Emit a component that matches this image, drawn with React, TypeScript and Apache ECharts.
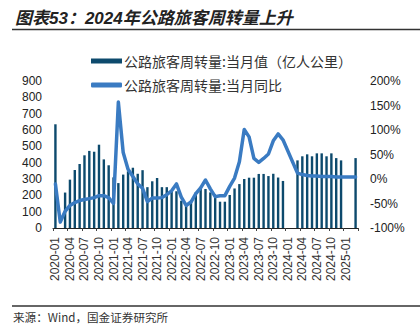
import React, { useEffect, useRef } from "react";
import * as echarts from "echarts";

const categories = [
  "2020-01","2020-02","2020-03","2020-04","2020-05","2020-06","2020-07","2020-08","2020-09","2020-10","2020-11","2020-12",
  "2021-01","2021-02","2021-03","2021-04","2021-05","2021-06","2021-07","2021-08","2021-09","2021-10","2021-11","2021-12",
  "2022-01","2022-02","2022-03","2022-04","2022-05","2022-06","2022-07","2022-08","2022-09","2022-10","2022-11","2022-12",
  "2023-01","2023-02","2023-03","2023-04","2023-05","2023-06","2023-07","2023-08","2023-09","2023-10","2023-11","2023-12",
  "2024-01","2024-02","2024-03","2024-04","2024-05","2024-06","2024-07","2024-08","2024-09","2024-10","2024-11","2024-12",
  "2025-01","2025-02","2025-03",
];

// 公路旅客周转量:当月值（亿人公里）
const monthlyValue: (number | null)[] = [
  635, null, 217, 296, 355, 392, 445, 472, 467, 510, 420, 384,
  310, 275, 327, 347, 369, 332, 354, 250, 286, 306, 250, 250,
  233, 225, 167, 135, 167, 218, 245, 239, 218, 187, 161, 161,
  202, 242, 269, 300, 308, 308, 331, 331, 318, 332, 309, 288,
  null, null, 414, 439, 451, 439, 457, 457, 439, 457, 428, 414,
  null, null, 428,
];

// 公路旅客周转量:当月同比 (%)
const yoyValue: (number | null)[] = [
  -10, -88, -66, -54, -48, -44, -42, -40, -38, -34, -34, -38,
  -50, 157, 54, 20, 5, -10, -19, -46, -39, -39, -38, -32,
  -24, -10, -37, -54, -47, -30, -18, -2, -20, -36, -34, -34,
  -15, 2, 35, 101, 86, 42, 34, 42, 51, 78, 92, 80,
  null, null, 12, 9, 7, 6, 6, 5, 5, 5, 4, 4,
  null, null, 4,
];

const leftTicks = { min: 0, max: 900, interval: 100 };
const rightTicks = { min: -100, max: 200, interval: 50 };

const seriesNames = ["公路旅客周转量:当月值（亿人公里）", "公路旅客周转量:当月同比"];
const titleText = "图表53：2024年公路旅客周转量上升";
const sourceText = "来源：Wind，国金证券研究所";

const BAR = "#0d4a6d";
const LINE = "#3a7bc2";
const CJK = "'Noto Sans CJK SC', sans-serif";
const LATIN = "'Liberation Sans', Arial, sans-serif";

export default function App() {
  const ref = useRef<HTMLDivElement>(null);
  useEffect(() => {
    if (!ref.current) return;
    const chart = echarts.init(ref.current, undefined, { renderer: "svg" });
    chart.setOption({
      animation: false,
      backgroundColor: "#ffffff",
      title: {
        text: titleText,
        left: 10,
        top: 5,
        textStyle: {
          fontFamily: "'Liberation Sans', 'Noto Sans CJK SC', sans-serif",
          fontSize: 17,
          fontWeight: "bold",
          fontStyle: "italic",
          color: "#222",
        },
      },
      graphic: [
        { type: "line", shape: { x1: 12, y1: 29.5, x2: 420, y2: 29.5 }, style: { stroke: "#333", lineWidth: 1.5 } },
        { type: "line", shape: { x1: 12, y1: 306, x2: 420, y2: 306 }, style: { stroke: "#333", lineWidth: 1.5 } },
        {
          type: "text",
          left: 13,
          top: 311,
          style: { text: sourceText, font: `11.6px ${CJK}`, fill: "#333" },
        },
      ],
      legend: {
        orient: "vertical",
        left: 86,
        top: 49,
        itemWidth: 31,
        itemHeight: 5,
        itemGap: 10,
        textStyle: { fontFamily: CJK, fontSize: 14, color: "#333", padding: [0, 0, 0, -3] },
        data: [
          { name: seriesNames[0], icon: "rect" },
          { name: seriesNames[1], icon: "roundRect" },
        ],
      },
      grid: { left: 53, right: 62, top: 81, height: 147, containLabel: false },
      xAxis: {
        type: "category",
        data: categories,
        boundaryGap: true,
        axisLine: { lineStyle: { color: "#222", width: 1 } },
        axisTick: { show: true, interval: 2, length: 3, lineStyle: { color: "#444" } },
        axisLabel: {
          interval: 2,
          rotate: 90,
          margin: 9,
          fontFamily: LATIN,
          fontSize: 12,
          color: "#333",
        },
      },
      yAxis: [
        {
          type: "value",
          ...leftTicks,
          position: "left",
          axisLine: { show: false },
          axisTick: { show: false },
          splitLine: { show: false },
          axisLabel: { margin: 11, fontFamily: LATIN, fontSize: 12, color: "#222" },
        },
        {
          type: "value",
          ...rightTicks,
          position: "right",
          axisLine: { show: false },
          axisTick: { show: false },
          splitLine: { show: false },
          axisLabel: { margin: 12, fontFamily: LATIN, fontSize: 12, color: "#222", formatter: "{value}%" },
        },
      ],
      series: [
        {
          name: seriesNames[0],
          type: "bar",
          yAxisIndex: 0,
          data: monthlyValue,
          barWidth: 2.4,
          itemStyle: { color: BAR },
        },
        {
          name: seriesNames[1],
          type: "line",
          yAxisIndex: 1,
          data: yoyValue,
          connectNulls: true,
          showSymbol: false,
          symbol: "none",
          lineStyle: { color: LINE, width: 3.5, cap: "round", join: "round" },
          itemStyle: { color: LINE },
        },
      ],
    });
    return () => chart.dispose();
  }, []);
  return (
    <div
      ref={ref}
      style={{ position: "fixed", left: 0, top: 0, width: 420, height: 324, background: "#fff" }}
    />
  );
}
